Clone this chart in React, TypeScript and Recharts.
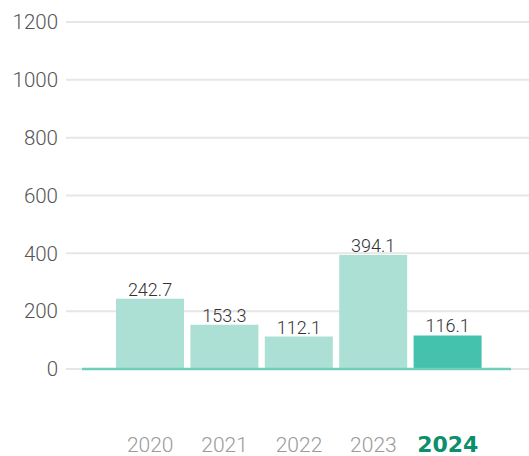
import React from 'react';
import { BarChart, Bar, XAxis, YAxis, CartesianGrid, Cell, LabelList, ReferenceLine } from 'recharts';

const years = ['2020', '2021', '2022', '2023', '2024'];
const values = [242.7, 153.3, 112.1, 394.1, 116.1];
const yTicks = [0, 200, 400, 600, 800, 1000, 1200];

const data = years.map((year, i) => ({ year, value: values[i] }));

const FONT = 'Roboto, "Liberation Sans", sans-serif';

const YearTick = (props: any) => {
  const { x, y, payload } = props;
  const last = payload.value === years[years.length - 1];
  return (
    <text
      x={x}
      y={y + 75}
      textAnchor="middle"
      fontFamily={last ? '"DejaVu Sans", sans-serif' : FONT}
      fontSize={last ? 22 : 21}
      fontWeight={last ? 700 : 300}
      fill={last ? '#0b8f6c' : '#9a9a9a'}
    >
      {payload.value}
    </text>
  );
};

// baseline is a bit shorter than the grid
const Baseline = (props: any) => {
  const { x1, x2, y1 } = props;
  return <line x1={x1 + 16} x2={x2 - 18} y1={y1} y2={y1} stroke="#6fcfbb" strokeWidth={2.5} />;
};

const App: React.FC = () => {
  return (
    <div style={{ width: 529, height: 456 }}>
      <style>{'body{margin:0}'}</style>
      <BarChart
        width={529}
        height={456}
        data={data}
        margin={{ top: 22, right: 0, bottom: 0, left: 0 }}
        barCategoryGap={3}
      >
        <CartesianGrid vertical={false} stroke="#e6e6e6" strokeWidth={2} />
        <YAxis
          domain={[0, 1200]}
          ticks={yTicks}
          width={66}
          axisLine={false}
          tickLine={false}
          tick={{ fill: '#555', fontSize: 20.5, fontFamily: FONT, fontWeight: 300 }}
        />
        <XAxis
          dataKey="year"
          height={87}
          axisLine={false}
          tickLine={false}
          interval={0}
          padding={{ left: 47, right: 44 }}
          tick={<YearTick />}
        />
        <Bar dataKey="value" isAnimationActive={false}>
          {data.map((d, i) => (
            <Cell key={d.year} fill={i === data.length - 1 ? '#44c2ad' : '#ade0d4'} />
          ))}
          <LabelList
            dataKey="value"
            position="top"
            offset={3}
            style={{ fill: '#333', fontSize: 18, fontFamily: FONT, fontWeight: 300 }}
          />
        </Bar>
        <ReferenceLine y={0} shape={<Baseline />} />
      </BarChart>
    </div>
  );
};

export default App;
